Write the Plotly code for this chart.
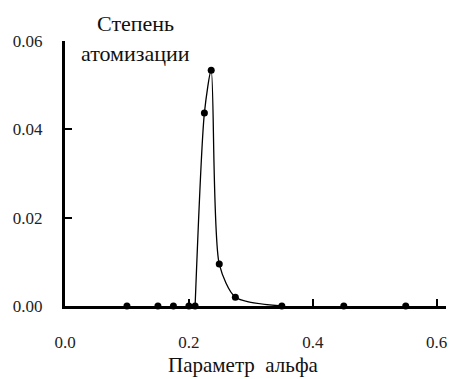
import plotly.graph_objects as go

# Measured atomization degree versus alpha parameter
alpha = [0.10, 0.15, 0.175, 0.20, 0.21, 0.225, 0.236, 0.249, 0.275, 0.35, 0.45, 0.55]
degree = [0.0, 0.0, 0.0, 0.0, 0.0, 0.0437, 0.0534, 0.0095, 0.002, 0.0, 0.0, 0.0]

x_ticks = [0.0, 0.2, 0.4, 0.6]
x_tick_text = ["0.0", "0.2", "0.4", "0.6"]
y_ticks = [0.0, 0.02, 0.04, 0.06]
y_tick_text = ["0.00", "0.02", "0.04", "0.06"]

# the smooth curve is drawn over the peak region only
start = alpha.index(0.21)
stop = alpha.index(0.35) + 1

tick_font = dict(family="Liberation Sans Narrow", size=17, color="#222")
title_font = dict(family="Liberation Serif", size=22, color="#111")
xtitle_font = dict(family="Liberation Serif", size=21, color="#111")

L, R, T, B = 65, 6, 41, 73
W, H = 452, 379
pw, ph = W - L - R, H - T - B


def px_x(x):
    return (x - L) / pw


def px_y(y):
    return (H - B - y) / ph


fig = go.Figure()
fig.add_trace(go.Scatter(
    x=alpha[start:stop], y=degree[start:stop], mode="lines",
    line=dict(color="black", width=1.3, shape="spline", smoothing=0.7),
    cliponaxis=True, hoverinfo="skip",
))
fig.add_trace(go.Scatter(
    x=alpha, y=degree, mode="markers",
    marker=dict(color="black", size=7),
    cliponaxis=False,
))

fig.update_layout(
    width=W, height=H,
    margin=dict(l=L, r=R, t=T, b=B),
    paper_bgcolor="white", plot_bgcolor="white",
    showlegend=False,
    xaxis=dict(
        range=[0, 0.615], tickvals=x_ticks, ticktext=x_tick_text,
        showgrid=False, zeroline=False,
        showline=True, linecolor="black", linewidth=3,
        ticks="inside", ticklen=7, tickwidth=2, tickcolor="black",
        tickfont=tick_font, ticklabelstandoff=19,
    ),
    yaxis=dict(
        range=[0, 0.06], tickvals=y_ticks, ticktext=y_tick_text,
        showgrid=False, zeroline=False,
        showline=True, linecolor="black", linewidth=3,
        ticks="inside", ticklen=7, tickwidth=2, tickcolor="black",
        tickfont=tick_font, ticklabelstandoff=16,
    ),
    annotations=[
        dict(text="Степень", x=px_x(135), y=px_y(23.6), xref="paper", yref="paper",
             showarrow=False, font=title_font, xanchor="center", yanchor="middle"),
        dict(text="атомизации", x=px_x(135), y=px_y(53.6), xref="paper", yref="paper",
             showarrow=False, font=title_font, xanchor="center", yanchor="middle"),
        dict(text="Параметр  альфа", x=px_x(243), y=px_y(365), xref="paper", yref="paper",
             showarrow=False, font=xtitle_font, xanchor="center", yanchor="middle"),
    ],
)

fig.write_html("out.html")
